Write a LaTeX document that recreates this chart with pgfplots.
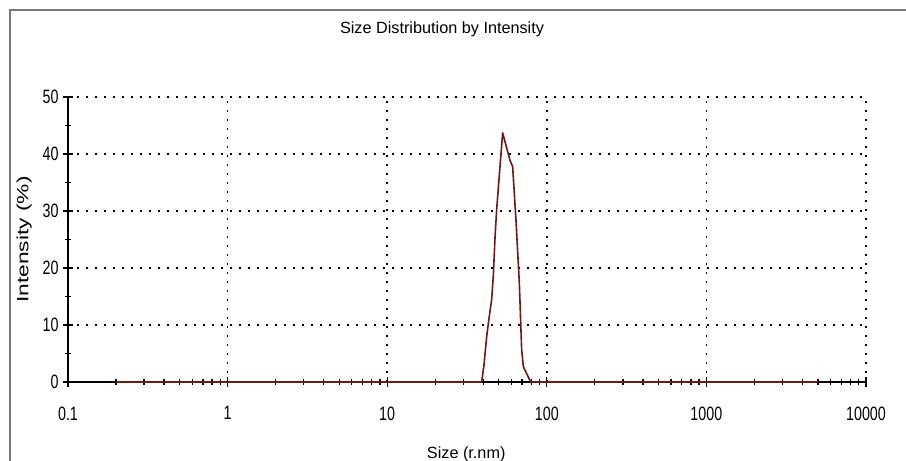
\documentclass[border=0pt]{standalone}
\usepackage{fontspec}
\setmainfont{Liberation Sans}
\newfontfamily\tickfont{Liberation Sans}[FakeStretch=0.74]
\newfontfamily\ylabfont{Liberation Sans}[FakeStretch=1.4]
\newcommand\tl[1]{\mbox{\tickfont\fontsize{19.4}{20}\selectfont #1}}
\usepackage{pgfplots}
\pgfplotsset{compat=1.18}
\definecolor{dataline}{RGB}{110,25,25}
\definecolor{framegray}{RGB}{120,120,120}
\begin{document}
\begin{tikzpicture}
\path[use as bounding box] (0,0) rectangle (906bp,461bp);
\draw[framegray, line width=2bp] (10bp,0) -- (10bp,451bp) -- (906bp,451bp);
\begin{axis}[
  at={(68bp,79bp)}, anchor=south west,
  scale only axis, width=798bp, height=285bp,
  xmode=log, xmin=0.1, xmax=10000, ymin=0, ymax=50,
  axis x line=bottom, axis y line=left,
  axis line style={-, line width=1.3bp, black},
  /pgf/number format/assume math mode=true,
  xtick={0.1,1,10,100,1000,10000},
  xticklabels={\tl{0.1},\tl{1},\tl{10},\tl{100},\tl{1000},\tl{10000}},
  minor xtick={0.2,0.3,0.4,0.5,0.6,0.7,0.8,0.9,2,3,4,5,6,7,8,9,20,30,40,50,60,70,80,90,200,300,400,500,600,700,800,900,2000,3000,4000,5000,6000,7000,8000,9000},
  ytick={0,10,20,30,40,50},
  yticklabels={\tl{0},\tl{10},\tl{20},\tl{30},\tl{40},\tl{50}},
  minor ytick={5,15,25,35,45},
  tick align=center,
  major tick length=10bp, minor tick length=6bp,
  tick style={black, line width=1.3bp},
  grid=major,
  major grid style={black, line width=1.6bp, dash pattern=on 1.6bp off 7.4bp},
  ticklabel style={font=\tickfont\fontsize{19.4}{20}\selectfont},
  xticklabel style={yshift=-16bp},
  yticklabel style={xshift=-1bp},
  clip=false,
  title={Size Distribution by Intensity},
  title style={at={(axis description cs:0.4687,1.2035)}, anchor=base, font=\fontsize{16.3}{18}\selectfont},
  xlabel={Size (r.nm)},
  xlabel style={at={(axis description cs:0.499,-0.2667)}, anchor=base, font=\fontsize{16.3}{18}\selectfont},
  ylabel={Intensity (\%)},
  ylabel style={at={(axis description cs:-0.0495,0.5)}, anchor=base, font=\ylabfont\fontsize{16.3}{18}\selectfont},
]
\addplot[dataline, line width=1.6bp, line join=round] coordinates {
(0.2,0) (39.07,0) (40.4,2.98) (42.0,7.95) (43.6,11.5) (45.1,14.4) (46.2,18.5) (47.4,25.5) (48.5,30.2) (50.9,37.8) (52.9,43.7) (58.8,38.9) (61.1,37.8) (64.1,28.4) (67.3,17.3) (69.6,5.6) (71.3,2.7) (79.2,0) (5000,0)};
\end{axis}
\end{tikzpicture}
\end{document}
